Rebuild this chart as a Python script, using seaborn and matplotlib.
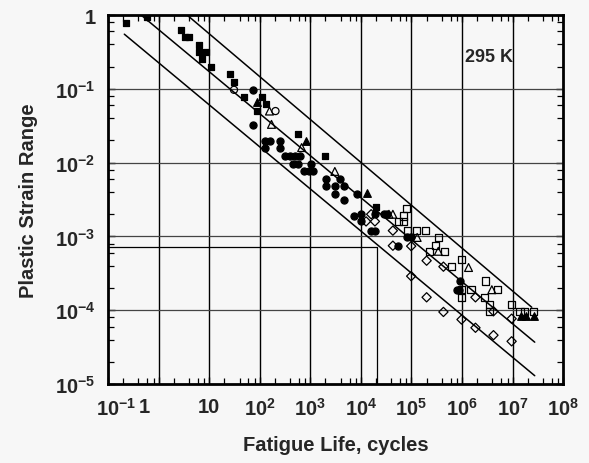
import numpy as np
import pandas as pd
import matplotlib
matplotlib.use("Agg")
import matplotlib.pyplot as plt
import matplotlib.ticker as mticker
import matplotlib.transforms as mtransforms
import seaborn as sns

# data (cycles, plastic strain range)
sq_fill_x = [0.23, 0.6, 2.8, 3.3, 4.0, 6.3, 6.3, 8.7, 7.3, 11, 26, 31, 50, 113, 136, 90, 560, 1930, 2.0e4]
sq_fill_y = [0.78, 0.94, 0.63, 0.50, 0.50, 0.39, 0.32, 0.32, 0.25, 0.20, 0.16, 0.124, 0.078, 0.078, 0.063, 0.050, 0.0247, 0.0124, 0.0025]

circ_fill_x = [75, 75, 130, 163, 247, 130, 247, 310, 390, 490, 615, 447, 560, 1020, 740, 930, 1120,
               2020, 3840, 2020, 3060, 4610, 3060, 4610, 8360, 7300, 1.0e4, 1.0e4, 1.9e4, 2.9e4, 3.3e4,
               1.6e4, 1.9e4, 5.5e4, 8.3e4, 9.9e4, 9.3e5, 7.8e5, 8.6e5]
circ_fill_y = [0.097, 0.032, 0.0198, 0.0198, 0.0198, 0.016, 0.016, 0.0124, 0.0124, 0.0124, 0.0124, 0.0097, 0.0097, 0.0097, 0.0076, 0.0076, 0.0076,
               0.0061, 0.0061, 0.0049, 0.0049, 0.0049, 0.0038, 0.0031, 0.0038, 0.0019, 0.0020, 0.0016, 0.0020, 0.0020, 0.0020,
               0.0012, 0.0012, 7.5e-4, 9.7e-4, 9.7e-4, 2.5e-4, 1.9e-4, 1.9e-4]

tri_fill_x = [90, 810, 1.3e4, 1.46e7, 1.83e7, 2.6e7]
tri_fill_y = [0.067, 0.0198, 0.0039, 8.5e-5, 8.5e-5, 8.5e-5]

tri_open_x = [156, 171, 675, 3060, 3.6e4, 4.3e4, 1.3e5, 3.4e5, 1.35e6, 3.9e6]
tri_open_y = [0.050, 0.033, 0.016, 0.0076, 0.0020, 0.0020, 9.7e-4, 6.3e-4, 3.8e-4, 1.9e-4]

circ_open_x = [31, 205]
circ_open_y = [0.097, 0.050]

sq_open_x = [7.9e4, 6.9e4, 6.9e4, 5.5e4, 8.3e4, 1.25e5, 1.9e5, 3.4e5, 3.0e5, 2.3e5, 4.5e5, 6.2e5, 9.8e5,
             9.8e5, 1.5e6, 9.8e5, 2.8e6, 2.9e6, 5.1e6, 3.5e6, 3.5e6, 9.6e6, 1.4e7, 1.75e7, 2.6e7]
sq_open_y = [0.0024, 0.0019, 0.0016, 0.0016, 0.0012, 0.0012, 0.0012, 9.7e-4, 7.5e-4, 6.3e-4, 6.3e-4, 3.9e-4, 4.9e-4,
             1.9e-4, 1.9e-4, 1.5e-4, 1.5e-4, 2.5e-4, 1.9e-4, 1.2e-4, 9.6e-5, 1.2e-4, 9.7e-5, 9.7e-5, 9.7e-5]

dia_open_x = [1.6e4, 1.27e4, 1.9e4, 4.3e4, 4.3e4, 9.9e4, 2.0e5, 4.3e5, 9.9e4, 2.0e5, 4.3e5, 9.8e5,
              1.85e6, 4.2e6, 9.6e6, 1.85e6, 4.2e6, 9.6e6]
dia_open_y = [0.0020, 0.0016, 0.0016, 0.0012, 7.5e-4, 7.4e-4, 4.7e-4, 3.9e-4, 2.9e-4, 1.5e-4, 9.5e-5, 7.5e-5,
              5.8e-5, 4.6e-5, 3.8e-5, 1.5e-4, 9.7e-5, 7.7e-5]

# scatter band lines (end points)
band_upper_x = [3.66, 2.4e7]
band_upper_y = [1.0, 1.1e-4]
band_mid_x = [0.45, 2.75e7]
band_mid_y = [1.0, 3.7e-5]
band_low_x = [0.21, 2.75e7]
band_low_y = [0.55, 1.3e-5]

# leftover box lines in the scanned figure
box_x = [0.1, 2.1e4, 2.1e4]
box_y = [7.1e-4, 7.1e-4, 1e-5]

x_ticks = [1e-1, 1, 10, 1e2, 1e3, 1e4, 1e5, 1e6, 1e7, 1e8]
x_labels = ["$10^{-1}$", "1", "10", "$10^{2}$", "$10^{3}$", "$10^{4}$", "$10^{5}$", "$10^{6}$", "$10^{7}$", "$10^{8}$"]
y_ticks = [1e-5, 1e-4, 1e-3, 1e-2, 1e-1, 1]
y_labels = ["$10^{-5}$", "$10^{-4}$", "$10^{-3}$", "$10^{-2}$", "$10^{-1}$", "1"]

sns.set_theme(style="ticks")
plt.rcParams["font.family"] = ["Liberation Sans", "DejaVu Sans"]
plt.rcParams["font.weight"] = "bold"
plt.rcParams["mathtext.fontset"] = "custom"
plt.rcParams["mathtext.rm"] = "Liberation Sans:bold"
plt.rcParams["mathtext.it"] = "Liberation Sans:bold"
plt.rcParams["mathtext.bf"] = "Liberation Sans:bold"
plt.rcParams["mathtext.default"] = "rm"

bg = "#f7f7f7"
fig = plt.figure(figsize=(5.89, 4.64), dpi=100, facecolor=bg)
ax = fig.add_axes([0.1834, 0.170, 0.7726, 0.7955])
ax.set_facecolor(bg)
ax.set_xscale("log")
ax.set_yscale("log")
ax.set_xlim(1e-1, 1e8)
ax.set_ylim(1e-5, 1)

# grid
for xv in x_ticks[1:-1]:
    ax.axvline(xv, color="black", lw=1.0, zorder=1)
for yv in y_ticks[1:-1]:
    ax.axhline(yv, color="#444444", lw=0.9, zorder=1)

ax.plot(box_x, box_y, color="black", lw=0.9, zorder=1)

for lx, ly in [(band_upper_x, band_upper_y), (band_mid_x, band_mid_y), (band_low_x, band_low_y)]:
    ax.plot(lx, ly, color="black", lw=1.1, zorder=2)

groups = [
    (sq_fill_x, sq_fill_y, "s", True, 24),
    (circ_fill_x, circ_fill_y, "o", True, 26),
    (tri_fill_x, tri_fill_y, "^", True, 30),
    (tri_open_x, tri_open_y, "^", False, 32),
    (circ_open_x, circ_open_y, "o", False, 26),
    (sq_open_x, sq_open_y, "s", False, 28),
    (dia_open_x, dia_open_y, "D", False, 22),
]
for gx, gy, mk, filled, size in groups:
    df = pd.DataFrame({"cycles": gx, "strain": gy})
    sns.scatterplot(data=df, x="cycles", y="strain", marker=mk, s=size, ax=ax,
                    facecolor="black" if filled else "none", edgecolor="black",
                    linewidth=0.9, zorder=3, legend=False)

ax.set_xticks(x_ticks)
ax.set_xticklabels(x_labels)
ax.set_yticks(y_ticks)
ax.set_yticklabels(y_labels)
ax.xaxis.set_minor_locator(mticker.LogLocator(base=10, subs=(2, 4, 6, 8), numticks=20))
ax.yaxis.set_minor_locator(mticker.LogLocator(base=10, subs=(2, 4, 6, 8), numticks=20))
ax.xaxis.set_minor_formatter(mticker.NullFormatter())
ax.yaxis.set_minor_formatter(mticker.NullFormatter())
ax.tick_params(which="both", direction="in", top=True, right=True, color="black")
ax.tick_params(which="major", length=5, width=1, labelsize=14.5, pad=9)
ax.tick_params(which="minor", length=4.5, width=0.9)
for sp in ax.spines.values():
    sp.set_linewidth(2)
    sp.set_color("black")

# nudge the crowded first x labels like the original
xl = ax.get_xticklabels()
xl[0].set_transform(xl[0].get_transform() + mtransforms.ScaledTranslation(8 / 100, 0, fig.dpi_scale_trans))
xl[1].set_transform(xl[1].get_transform() + mtransforms.ScaledTranslation(-14 / 100, 0, fig.dpi_scale_trans))

ax.set_xlabel("Fatigue Life, cycles", fontsize=14.5, fontweight="bold", labelpad=12)
ax.set_ylabel("Plastic Strain Range", fontsize=14.5, fontweight="bold", labelpad=12)
ax.text(3.4e6, 0.27, "295 K", fontsize=13, fontweight="bold", ha="center", va="center")

fig.savefig("out.png", dpi=100, facecolor=bg)
